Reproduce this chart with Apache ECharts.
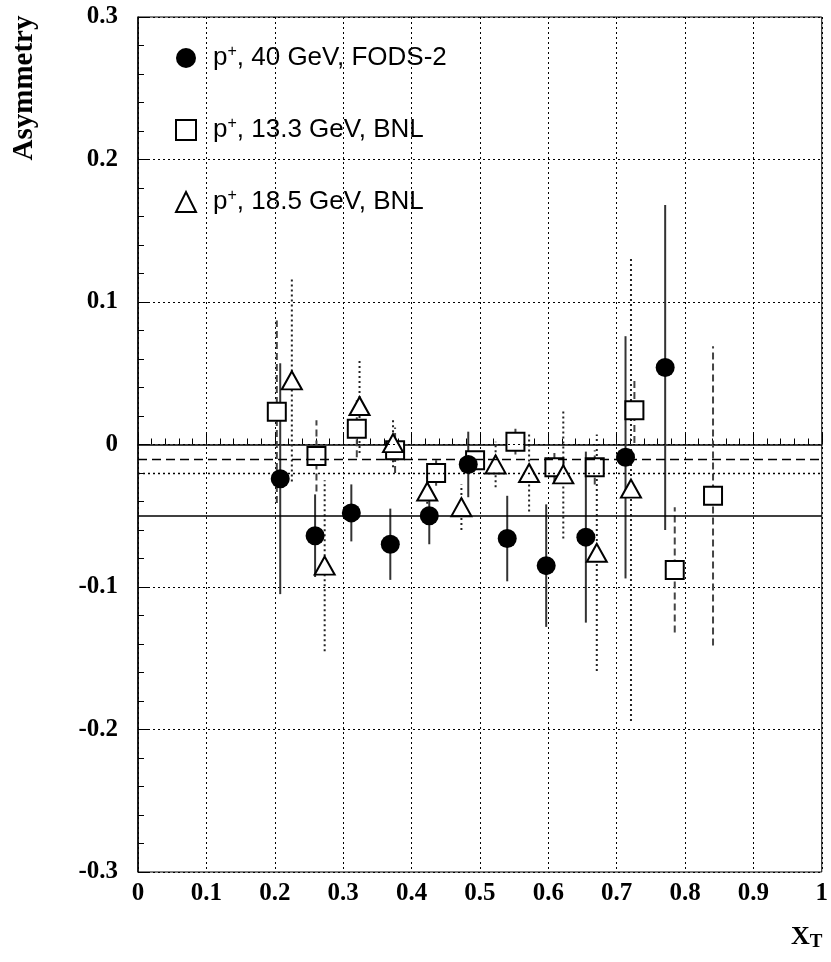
<!DOCTYPE html>
<html>
<head>
<meta charset="utf-8">
<script src="https://cdn.jsdelivr.net/npm/echarts@6/dist/echarts.min.js"></script>
<style>
html,body{margin:0;padding:0;background:#fff;}
#asymChart{width:831px;height:962px;}
</style>
</head>
<body>
<div id="asymChart"></div>
<script>
// p+, 40 GeV, FODS-2 (filled circles)
var fodsX   = [0.208, 0.259, 0.312, 0.369, 0.426, 0.483, 0.540, 0.597, 0.655, 0.713, 0.771];
var fodsY   = [-0.024, -0.064, -0.048, -0.070, -0.050, -0.014, -0.066, -0.085, -0.065, -0.009, 0.054];
var fodsErr = [0.081, 0.029, 0.020, 0.025, 0.020, 0.023, 0.030, 0.043, 0.060, 0.085, 0.114];

// p+, 13.3 GeV, BNL (open squares)
var bnl13X   = [0.203, 0.261, 0.320, 0.376, 0.436, 0.493, 0.552, 0.609, 0.668, 0.726, 0.785, 0.841];
var bnl13Y   = [0.023, -0.008, 0.011, -0.004, -0.020, -0.011, 0.002, -0.016, -0.016, 0.024, -0.088, -0.036];
var bnl13Err = [0.064, 0.025, 0.020, 0.016, 0.009, 0.007, 0.009, 0.010, 0.012, 0.023, 0.044, 0.105];

// p+, 18.5 GeV, BNL (open triangles)
var bnl18X   = [0.225, 0.273, 0.324, 0.373, 0.423, 0.473, 0.523, 0.572, 0.622, 0.671, 0.721];
var bnl18Y   = [0.045, -0.085, 0.027, 0.001, -0.033, -0.044, -0.014, -0.020, -0.021, -0.076, -0.031];
var bnl18Err = [0.071, 0.060, 0.033, 0.017, 0.012, 0.016, 0.016, 0.027, 0.045, 0.083, 0.163];

// horizontal reference lines
var refSolid  = -0.05;
var refDashed = -0.01;
var refDotted = [0, -0.02];

var seriesNames = ['p+, 40 GeV, FODS-2', 'p+, 13.3 GeV, BNL', 'p+, 18.5 GeV, BNL'];

var chart = echarts.init(document.getElementById('asymChart'));

function points(xs, ys) {
  return xs.map(function (x, i) { return [x, ys[i]]; });
}

function errorBars(xs, ys, es, dash, color) {
  return {
    type: 'custom',
    silent: true,
    z: 2,
    encode: { x: 0, y: [1, 2] },
    data: xs.map(function (x, i) { return [x, ys[i] - es[i], ys[i] + es[i]]; }),
    renderItem: function (params, api) {
      var lo = api.coord([api.value(0), api.value(1)]);
      var hi = api.coord([api.value(0), api.value(2)]);
      return {
        type: 'line',
        shape: { x1: lo[0], y1: lo[1], x2: hi[0], y2: hi[1] },
        style: { stroke: color, lineWidth: 2, lineDash: dash }
      };
    }
  };
}

var axisFont = { fontFamily: 'Liberation Serif', fontWeight: 'bold', fontSize: 25, color: '#000' };

chart.setOption({
  animation: false,
  backgroundColor: '#fff',
  grid: {
    left: 138,
    right: 6,
    top: 17,
    bottom: 90,
    show: true,
    borderColor: '#000',
    borderWidth: 1
  },
  legend: {
    left: 170,
    top: 39,
    orient: 'vertical',
    itemWidth: 20,
    itemHeight: 20,
    itemGap: 44,
    selectedMode: false,
    data: [
      { name: seriesNames[0], icon: 'circle' },
      { name: seriesNames[1], icon: 'rect' },
      { name: seriesNames[2], icon: 'triangle' }
    ],
    formatter: function (name) {
      return '{t|p}{s|+}{t|' + name.slice(2) + '}';
    },
    textStyle: {
      padding: [0, 0, 0, 12],
      rich: {
        t: { fontFamily: 'Liberation Sans', fontSize: 26, color: '#000', lineHeight: 28 },
        s: { fontFamily: 'Liberation Sans', fontSize: 16, color: '#000', verticalAlign: 'top', lineHeight: 28, padding: [0, 0, 12, 0] }
      }
    }
  },
  xAxis: {
    type: 'value',
    min: 0,
    max: 1,
    interval: 0.1,
    axisLine: { lineStyle: { color: '#000', width: 1.5 } },
    axisTick: { inside: true, length: 12, lineStyle: { color: '#000' } },
    minorTick: { show: true, splitNumber: 5, length: 6, lineStyle: { color: '#000' } },
    splitLine: { show: true, lineStyle: { color: '#000', type: [2, 3], width: 1 } },
    axisLabel: Object.assign({ margin: 9, formatter: function (v) { return String(+v.toFixed(1)); } }, axisFont)
  },
  yAxis: {
    type: 'value',
    min: -0.3,
    max: 0.3,
    interval: 0.1,
    axisLine: { lineStyle: { color: '#000', width: 1.5 } },
    axisTick: { inside: true, length: 12, lineStyle: { color: '#000' } },
    minorTick: { show: true, splitNumber: 5, length: 6, lineStyle: { color: '#000' } },
    splitLine: { show: true, lineStyle: { color: '#000', type: [2, 3], width: 1 } },
    axisLabel: Object.assign({ margin: 20, formatter: function (v) { return String(+v.toFixed(1)); } }, axisFont)
  },
  graphic: [
    {
      type: 'text',
      x: 25,
      y: 88,
      rotation: Math.PI / 2,
      style: {
        text: 'Asymmetry',
        fontFamily: 'Liberation Serif',
        fontWeight: 'bold',
        fontSize: 29,
        fill: '#000',
        align: 'center',
        verticalAlign: 'middle'
      }
    },
    {
      type: 'text',
      x: 791,
      y: 922,
      style: {
        text: '{x|X}{t|T}',
        rich: {
          x: { fontFamily: 'Liberation Serif', fontWeight: 'bold', fontSize: 26, color: '#000', lineHeight: 30 },
          t: { fontFamily: 'Liberation Serif', fontWeight: 'bold', fontSize: 19, color: '#000', verticalAlign: 'bottom', lineHeight: 30, padding: [14, 0, 0, 0] }
        }
      }
    }
  ],
  series: [
    {
      name: 'refLines',
      type: 'line',
      data: [],
      silent: true,
      markLine: {
        silent: true,
        symbol: ['none', 'none'],
        label: { show: false },
        data: [
          { yAxis: refSolid, lineStyle: { color: '#000', type: 'solid', width: 1.5 } },
          { yAxis: refDashed, lineStyle: { color: '#000', type: [9, 5], width: 1.3 } },
          { yAxis: refDotted[0], lineStyle: { color: '#000', type: [2, 3], width: 1 } },
          { yAxis: refDotted[1], lineStyle: { color: '#000', type: [2, 3], width: 1.3 } }
        ]
      }
    },
    errorBars(fodsX, fodsY, fodsErr, null, '#333'),
    errorBars(bnl13X, bnl13Y, bnl13Err, [7, 4], '#444'),
    errorBars(bnl18X, bnl18Y, bnl18Err, [2, 3], '#222'),
    {
      name: seriesNames[0],
      type: 'scatter',
      z: 5,
      symbol: 'circle',
      symbolSize: 19,
      itemStyle: { color: '#000', opacity: 1 },
      data: points(fodsX, fodsY)
    },
    {
      name: seriesNames[1],
      type: 'scatter',
      z: 4,
      symbol: 'rect',
      symbolSize: 18,
      itemStyle: { color: '#fff', borderColor: '#000', borderWidth: 2, opacity: 1 },
      data: points(bnl13X, bnl13Y)
    },
    {
      name: seriesNames[2],
      type: 'scatter',
      z: 4,
      symbol: 'triangle',
      symbolSize: [20, 18],
      itemStyle: { color: '#fff', borderColor: '#000', borderWidth: 2, opacity: 1 },
      data: points(bnl18X, bnl18Y)
    }
  ]
});
window.addEventListener('resize', chart.resize);
</script>
</body>
</html>
